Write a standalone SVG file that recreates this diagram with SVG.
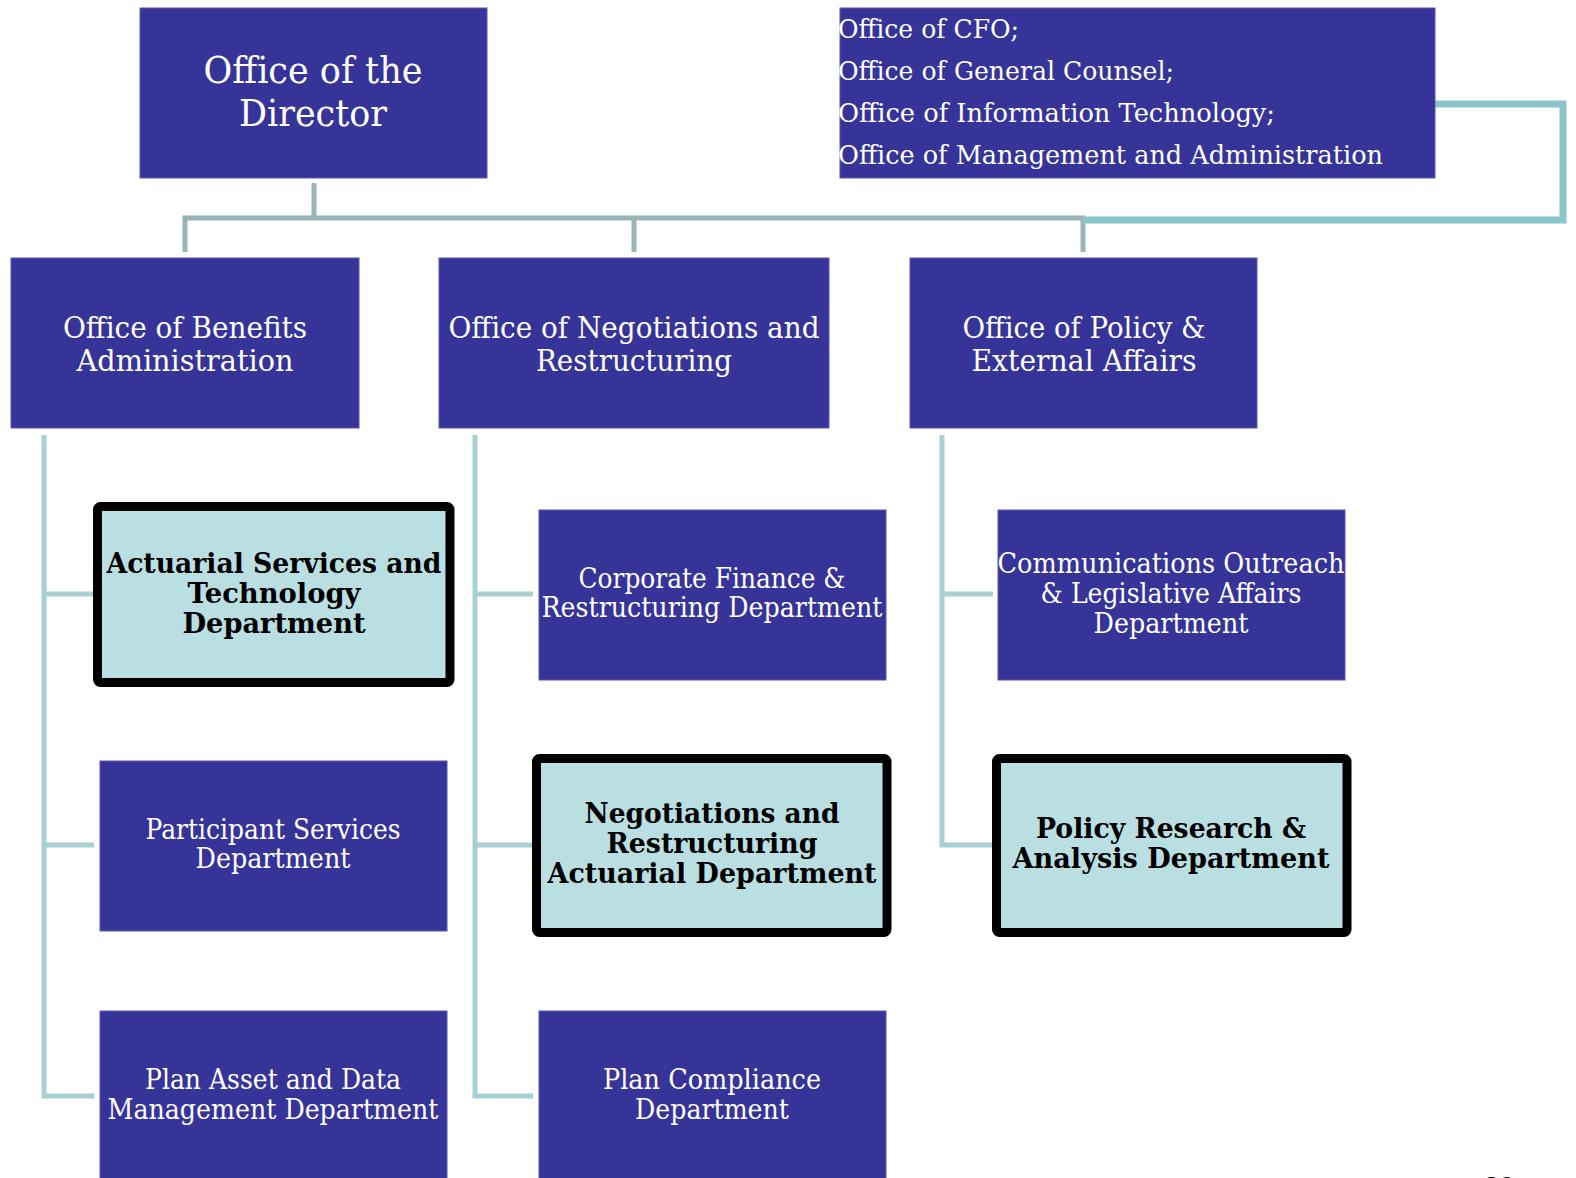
<svg xmlns="http://www.w3.org/2000/svg" width="1576" height="1178" viewBox="0 0 1576 1178">
  <style>
    .box { fill: #363399; stroke: #5a58b0; stroke-width: 1; }
    .hl { fill: #badfe2; stroke: #000; stroke-width: 9; }
    .w { fill: #fff; font-family: "DejaVu Serif", "Liberation Serif", serif; text-anchor: middle; }
    .wl { fill: #fff; font-family: "DejaVu Serif", "Liberation Serif", serif; font-size: 26px; }
    .b { fill: #000; font-family: "DejaVu Serif", "Liberation Serif", serif; font-weight: bold; text-anchor: middle; font-size: 28px; }
    .top { fill: none; stroke: #97b4b7; stroke-width: 5; }
    .loop { fill: none; stroke: #88c6cc; stroke-width: 7; }
    .sub { fill: none; stroke: #a8cfd1; stroke-width: 5; }
  </style>

  <!-- connectors -->
  <g id="connectors">
    <path class="top" d="M314 183 V218 M185 252 V218 H1083 V252 M634 218 V252"/>
    <path class="loop" d="M1083 220 H1563 V104 H1432"/>
    <path class="sub" d="M44 435 V1096 H94 M44 594 H94 M44 845 H94"/>
    <path class="sub" d="M475 435 V1096 H533 M475 594 H533 M475 845 H533"/>
    <path class="sub" d="M942 435 V845 H993 M942 594 H993"/>
  </g>

  <!-- top level -->
  <g id="director">
    <rect class="box" x="140" y="8" width="347" height="170"/>
    <text class="w" font-size="38" x="313" y="83" textLength="219" lengthAdjust="spacingAndGlyphs">Office of the</text>
    <text class="w" font-size="38" x="313" y="126" textLength="148" lengthAdjust="spacingAndGlyphs">Director</text>
  </g>

  <g id="staff-offices">
    <rect class="box" x="840" y="8" width="595" height="170"/>
    <text class="wl" x="838" y="38" textLength="181" lengthAdjust="spacingAndGlyphs">Office of CFO;</text>
    <text class="wl" x="838" y="80" textLength="336" lengthAdjust="spacingAndGlyphs">Office of General Counsel;</text>
    <text class="wl" x="838" y="122" textLength="437" lengthAdjust="spacingAndGlyphs">Office of Information Technology;</text>
    <text class="wl" x="838" y="164" textLength="545" lengthAdjust="spacingAndGlyphs">Office of Management and Administration</text>
  </g>

  <!-- offices -->
  <g id="benefits-admin">
    <rect class="box" x="11" y="258" width="348" height="170"/>
    <text class="w" font-size="29" x="185" y="338" textLength="244" lengthAdjust="spacingAndGlyphs">Office of Benefits</text>
    <text class="w" font-size="29" x="185" y="371" textLength="217" lengthAdjust="spacingAndGlyphs">Administration</text>
  </g>

  <g id="negotiations-restructuring">
    <rect class="box" x="439" y="258" width="390" height="170"/>
    <text class="w" font-size="29" x="634" y="338" textLength="371" lengthAdjust="spacingAndGlyphs">Office of Negotiations and</text>
    <text class="w" font-size="29" x="634" y="371" textLength="196" lengthAdjust="spacingAndGlyphs">Restructuring</text>
  </g>

  <g id="policy-external">
    <rect class="box" x="910" y="258" width="347" height="170"/>
    <text class="w" font-size="29" x="1084" y="338" textLength="243" lengthAdjust="spacingAndGlyphs">Office of Policy &amp;</text>
    <text class="w" font-size="29" x="1084" y="371" textLength="225" lengthAdjust="spacingAndGlyphs">External Affairs</text>
  </g>

  <!-- departments: benefits administration -->
  <g id="actuarial-services">
    <rect class="hl" x="97.5" y="506.5" width="352.5" height="176" rx="3"/>
    <text class="b" x="274" y="573" textLength="335" lengthAdjust="spacingAndGlyphs">Actuarial Services and</text>
    <text class="b" x="274" y="603" textLength="173" lengthAdjust="spacingAndGlyphs">Technology</text>
    <text class="b" x="274" y="633" textLength="183" lengthAdjust="spacingAndGlyphs">Department</text>
  </g>

  <g id="participant-services">
    <rect class="box" x="100" y="761" width="347" height="170"/>
    <text class="w" font-size="27" x="273" y="839" textLength="255" lengthAdjust="spacingAndGlyphs">Participant Services</text>
    <text class="w" font-size="27" x="273" y="868" textLength="155" lengthAdjust="spacingAndGlyphs">Department</text>
  </g>

  <g id="plan-asset-data">
    <rect class="box" x="100" y="1011" width="347" height="175"/>
    <text class="w" font-size="27" x="273" y="1089" textLength="256" lengthAdjust="spacingAndGlyphs">Plan Asset and Data</text>
    <text class="w" font-size="27" x="273" y="1119" textLength="331" lengthAdjust="spacingAndGlyphs">Management Department</text>
  </g>

  <!-- departments: negotiations and restructuring -->
  <g id="corporate-finance">
    <rect class="box" x="539" y="510" width="347" height="170"/>
    <text class="w" font-size="27" x="712" y="588" textLength="267" lengthAdjust="spacingAndGlyphs">Corporate Finance &amp;</text>
    <text class="w" font-size="27" x="712" y="617" textLength="341" lengthAdjust="spacingAndGlyphs">Restructuring Department</text>
  </g>

  <g id="nr-actuarial">
    <rect class="hl" x="536.5" y="758.5" width="350.5" height="174" rx="3"/>
    <text class="b" x="712" y="823" textLength="255" lengthAdjust="spacingAndGlyphs">Negotiations and</text>
    <text class="b" x="712" y="853" textLength="211" lengthAdjust="spacingAndGlyphs">Restructuring</text>
    <text class="b" x="712" y="883" textLength="329" lengthAdjust="spacingAndGlyphs">Actuarial Department</text>
  </g>

  <g id="plan-compliance">
    <rect class="box" x="539" y="1011" width="347" height="175"/>
    <text class="w" font-size="27" x="712" y="1089" textLength="218" lengthAdjust="spacingAndGlyphs">Plan Compliance</text>
    <text class="w" font-size="27" x="712" y="1119" textLength="154" lengthAdjust="spacingAndGlyphs">Department</text>
  </g>

  <!-- departments: policy and external affairs -->
  <g id="communications-outreach">
    <rect class="box" x="998" y="510" width="347" height="170"/>
    <text class="w" font-size="27" x="1171" y="573" textLength="347" lengthAdjust="spacingAndGlyphs">Communications Outreach</text>
    <text class="w" font-size="27" x="1171" y="603" textLength="261" lengthAdjust="spacingAndGlyphs">&amp; Legislative Affairs</text>
    <text class="w" font-size="27" x="1171" y="633" textLength="155" lengthAdjust="spacingAndGlyphs">Department</text>
  </g>

  <g id="policy-research">
    <rect class="hl" x="996.5" y="758.5" width="350.5" height="174" rx="3"/>
    <text class="b" x="1171" y="838" textLength="270" lengthAdjust="spacingAndGlyphs">Policy Research &amp;</text>
    <text class="b" x="1171" y="868" textLength="317" lengthAdjust="spacingAndGlyphs">Analysis Department</text>
  </g>

  <!-- page number, cut by the lower edge -->
  <text x="1499" y="1196" font-family="Liberation Sans, sans-serif" font-size="28" text-anchor="middle" fill="#000">20</text>
</svg>
